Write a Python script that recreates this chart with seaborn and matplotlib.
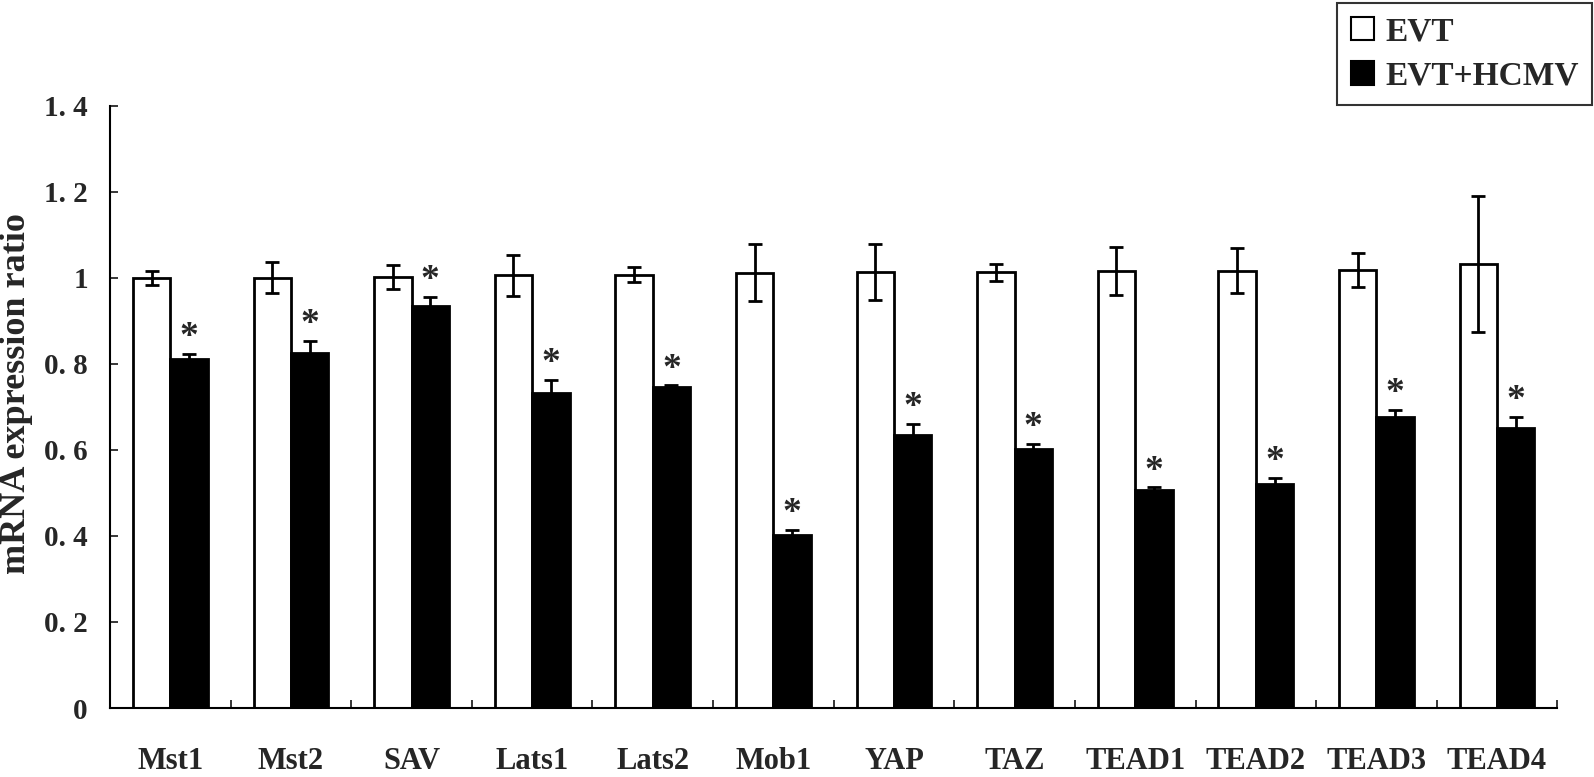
import matplotlib
matplotlib.use("Agg")
import matplotlib.pyplot as plt
from matplotlib.patches import Patch
import pandas as pd
import seaborn as sns

# values
genes = ["Mst1", "Mst2", "SAV", "Lats1", "Lats2", "Mob1",
         "YAP", "TAZ", "TEAD1", "TEAD2", "TEAD3", "TEAD4"]
evt_mean = [1.000, 1.001, 1.003, 1.006, 1.008, 1.012,
            1.014, 1.013, 1.017, 1.017, 1.019, 1.033]
evt_err = [0.017, 0.037, 0.028, 0.047, 0.017, 0.066,
           0.066, 0.019, 0.056, 0.052, 0.040, 0.158]
hcmv_mean = [0.812, 0.825, 0.935, 0.733, 0.746, 0.402,
             0.636, 0.603, 0.507, 0.522, 0.677, 0.652]
hcmv_err = [0.011, 0.028, 0.020, 0.030, 0.004, 0.013,
            0.024, 0.011, 0.006, 0.012, 0.017, 0.024]
groups = ["EVT", "EVT+HCMV"]
yticks = [0, 0.2, 0.4, 0.6, 0.8, 1.0, 1.2, 1.4]
ytick_labels = ["0", "0. 2", "0. 4", "0. 6", "0. 8", "1", "1. 2", "1. 4"]

df = pd.DataFrame({
    "gene": genes * 2,
    "group": [groups[0]] * len(genes) + [groups[1]] * len(genes),
    "value": evt_mean + hcmv_mean,
    "err": evt_err + hcmv_err,
})

sns.set_style("ticks")
plt.rcParams["font.family"] = ["Liberation Serif", "DejaVu Serif"]
plt.rcParams["font.weight"] = "bold"

fig = plt.figure(figsize=(15.94, 7.77), dpi=100)
ax = fig.add_axes([0.069, 0.0888, 0.908, 0.7748])

sns.barplot(data=df, x="gene", y="value", hue="group", order=genes,
            hue_order=groups, palette={"EVT": "white", "EVT+HCMV": "black"},
            edgecolor="black", linewidth=2, width=0.62, errorbar=None,
            legend=False, ax=ax)

# error bars + significance stars, placed on the bars seaborn drew
for cont, g in zip(ax.containers, groups):
    sub = df[df["group"] == g]
    xs = [p.get_x() + p.get_width() / 2 for p in cont.patches]
    ax.errorbar(xs, sub["value"], yerr=sub["err"], fmt="none",
                ecolor="black", elinewidth=2, capsize=5, capthick=2)
    if g == "EVT+HCMV":
        for x, v, e in zip(xs, sub["value"], sub["err"]):
            ax.text(x, v + e + 0.016, "*", ha="center", va="baseline",
                    fontsize=27, fontweight="bold")

ax.set_ylim(0, 1.4)
ax.set_xlim(-0.5, len(genes) - 0.5)
ax.set_yticks(yticks)
ax.set_yticklabels(ytick_labels, fontsize=21, fontweight="bold")
ax.set_xticks(range(len(genes)))
ax.set_xticklabels(genes, fontsize=22, fontweight="bold")
ax.set_xticks([i + 0.5 for i in range(len(genes))], minor=True)
ax.tick_params(axis="x", which="major", length=0, pad=28)
ax.tick_params(axis="x", which="minor", direction="in", length=6, width=1.3)
ax.tick_params(axis="y", direction="in", length=6, width=1.3, pad=16)
ax.set_xlabel("")
ax.set_ylabel("mRNA expression ratio", fontsize=26, fontweight="bold")
ax.yaxis.set_label_coords(-0.053, 0.522)
for side in ["top", "right"]:
    ax.spines[side].set_visible(False)
for side in ["left", "bottom"]:
    ax.spines[side].set_linewidth(1.5)
    ax.spines[side].set_color("black")

handles = [Patch(facecolor="white", edgecolor="black", linewidth=1.5),
           Patch(facecolor="black", edgecolor="black", linewidth=1.5)]
leg = fig.legend(handles, groups, loc="upper right",
                 bbox_to_anchor=(0.999, 0.996), fancybox=False,
                 frameon=True, edgecolor="black", fontsize=24,
                 handlelength=0.7, handleheight=0.7, handletextpad=0.35,
                 labelspacing=0.4, borderpad=0.4, borderaxespad=0)
leg.get_frame().set_linewidth(1.5)
for t in leg.get_texts():
    t.set_fontweight("bold")

fig.savefig("out.png", dpi=100, facecolor="white")
